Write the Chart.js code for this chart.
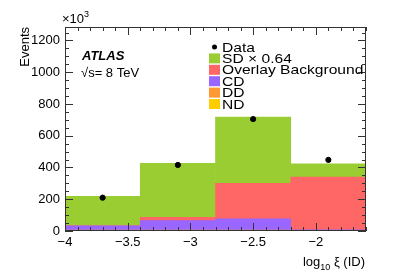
<!DOCTYPE html>
<html>
<head>
<meta charset="utf-8">
<script src="https://cdn.jsdelivr.net/npm/chart.js@4"></script>
<style>
  html, body { margin: 0; padding: 0; background: #fff; }
  #wrap { width: 407px; height: 276px; }
</style>
</head>
<body>
<div id="wrap"><canvas id="xiChart" width="407" height="276"></canvas></div>
<script>
// bins in log10 xi (ID)
const binLabels = ['-4 – -3.4', '-3.4 – -2.8', '-2.8 – -2.2', '-2.2 – -1.6'];
const binCenters = [-3.7, -3.1, -2.5, -1.9];
// stacked MC (x10^3 events)
const ndValues = [2, 2, 2, 2];
const ddValues = [4, 4, 4, 3];
const cdValues = [27, 59, 70, 2];
const overlayValues = [1, 21, 225, 332];
const sdValues = [185, 341, 416, 84];
// data points
const dataValues = [210, 416, 705, 448];

const FONT = "'Liberation Sans', Arial, Helvetica, sans-serif";
Chart.defaults.font.family = FONT;
Chart.defaults.font.size = 13;
Chart.defaults.color = '#000';

const legendItems = [
  { label: 'Data', type: 'dot' },
  { label: 'SD \u00d7 0.64', color: '#9acd32' },
  { label: 'Overlay Background', color: '#ff6666' },
  { label: 'CD', color: '#9966ff' },
  { label: 'DD', color: '#ff9933' },
  { label: 'ND', color: '#ffcc00' }
];

// ROOT-like frame, inward ticks and labels
const atlasDecor = {
  id: 'atlasDecor',
  afterDatasetsDraw(chart) {
    const ctx = chart.ctx;
    const a = chart.chartArea;
    const xs = chart.scales.xl;
    const ys = chart.scales.y;
    ctx.save();
    ctx.strokeStyle = '#333';
    ctx.lineWidth = 1;
    ctx.strokeRect(a.left + 0.5, a.top + 0.5, a.right - a.left - 1, a.bottom - a.top - 1);

    ctx.beginPath();
    // y ticks every 50, major every 200
    for (let v = 0; v <= ys.max; v += 50) {
      const py = Math.round(ys.getPixelForValue(v)) + 0.5;
      const len = v % 200 === 0 ? 8 : 4;
      ctx.moveTo(a.left, py); ctx.lineTo(a.left + len, py);
      ctx.moveTo(a.right, py); ctx.lineTo(a.right - len, py);
    }
    // x ticks every 0.1, major every 0.5
    for (let i = 0; i <= 24; i++) {
      const v = -4 + i * 0.1;
      const px = Math.round(xs.getPixelForValue(v)) + 0.5;
      const len = i % 5 === 0 ? 8 : 4;
      ctx.moveTo(px, a.bottom); ctx.lineTo(px, a.bottom - len);
      ctx.moveTo(px, a.top); ctx.lineTo(px, a.top + len);
    }
    ctx.stroke();

    ctx.fillStyle = '#000';
    // x10^3
    ctx.font = '13px ' + FONT;
    ctx.textBaseline = 'alphabetic';
    ctx.textAlign = 'left';
    ctx.fillText('\u00d710', 62, 23);
    const w10 = ctx.measureText('\u00d710').width;
    ctx.font = '9px ' + FONT;
    ctx.fillText('3', 62 + w10, 17);

    // y title
    ctx.save();
    ctx.translate(29, 27);
    ctx.rotate(-Math.PI / 2);
    ctx.font = '13px ' + FONT;
    ctx.textAlign = 'right';
    ctx.fillText('Events', 0, 0);
    ctx.restore();

    // x title: log10 xi (ID)
    const p1 = 'log', p3 = ' \u03be (ID)';
    ctx.font = '9px ' + FONT;
    const wSub = ctx.measureText('10').width;
    ctx.font = '13px ' + FONT;
    const w1 = ctx.measureText(p1).width;
    const w3 = ctx.measureText(p3).width;
    const x0 = 365 - (w1 + wSub + w3);
    ctx.fillText(p1, x0, 266);
    ctx.font = '9px ' + FONT;
    ctx.fillText('10', x0 + w1, 270);
    ctx.font = '13px ' + FONT;
    ctx.fillText(p3, x0 + w1 + wSub, 266);

    // ATLAS label
    ctx.font = 'italic bold 13px ' + FONT;
    ctx.fillText('ATLAS', 82, 60);
    ctx.font = '13px ' + FONT;
    ctx.fillText('\u221as= 8 TeV', 81, 77);

    // legend (text is a bit wider in the original)
    ctx.textBaseline = 'middle';
    legendItems.forEach((it, i) => {
      const y = 47 + i * 11.4;
      if (it.type === 'dot') {
        ctx.beginPath();
        ctx.arc(214.5, y, 2.5, 0, Math.PI * 2);
        ctx.fill();
      } else {
        ctx.fillStyle = it.color;
        ctx.fillRect(209, y - 5, 11, 10);
        ctx.fillStyle = '#000';
      }
      ctx.save();
      ctx.translate(222, y + 1);
      ctx.scale(1.2, 1);
      ctx.font = '13px ' + FONT;
      ctx.fillText(it.label, 0, 0);
      ctx.restore();
    });
    ctx.restore();
  }
};

const barDefaults = { xAxisID: 'x', yAxisID: 'y', grouped: false, stack: 'mc' };

const ctx = document.getElementById('xiChart').getContext('2d');
new Chart(ctx, {
  type: 'bar',
  data: {
    labels: binLabels,
    datasets: [
      {
        type: 'scatter',
        label: 'Data',
        xAxisID: 'xl',
        yAxisID: 'y',
        data: binCenters.map((x, i) => ({ x: x, y: dataValues[i] })),
        backgroundColor: '#000',
        borderColor: '#000',
        pointRadius: 2.6,
        pointHoverRadius: 2.6
      },
      { ...barDefaults, label: 'ND', data: ndValues, backgroundColor: '#ffcc00' },
      { ...barDefaults, label: 'DD', data: ddValues, backgroundColor: '#ff9933' },
      { ...barDefaults, label: 'CD', data: cdValues, backgroundColor: '#9966ff' },
      { ...barDefaults, label: 'Overlay Background', data: overlayValues, backgroundColor: '#ff6666' },
      { ...barDefaults, label: 'SD x 0.64', data: sdValues, backgroundColor: '#9acd32' }
    ]
  },
  options: {
    responsive: false,
    animation: false,
    layout: { padding: { top: 27, right: 41, left: 0, bottom: 0 } },
    datasets: { bar: { barPercentage: 1, categoryPercentage: 1, borderWidth: 0 } },
    plugins: { legend: { display: false }, tooltip: { enabled: false } },
    scales: {
      x: { type: 'category', display: false, stacked: true, offset: true },
      xl: {
        type: 'linear',
        position: 'bottom',
        offset: false,
        min: -4,
        max: -1.6,
        grid: { display: false, drawTicks: false, offset: false },
        border: { display: false },
        ticks: {
          stepSize: 0.5,
          includeBounds: false,
          padding: 4,
          maxRotation: 0,
          callback: v => String(v).replace('-', '\u2212')
        },
        afterFit: s => { s.height = 45; }
      },
      y: {
        stacked: true,
        min: 0,
        max: 1285,
        grid: { display: false, drawTicks: false },
        border: { display: false },
        ticks: { stepSize: 200, includeBounds: false, padding: 5, callback: v => String(v) },
        afterFit: s => { s.width = 65; }
      }
    }
  },
  plugins: [atlasDecor]
});
</script>
</body>
</html>
